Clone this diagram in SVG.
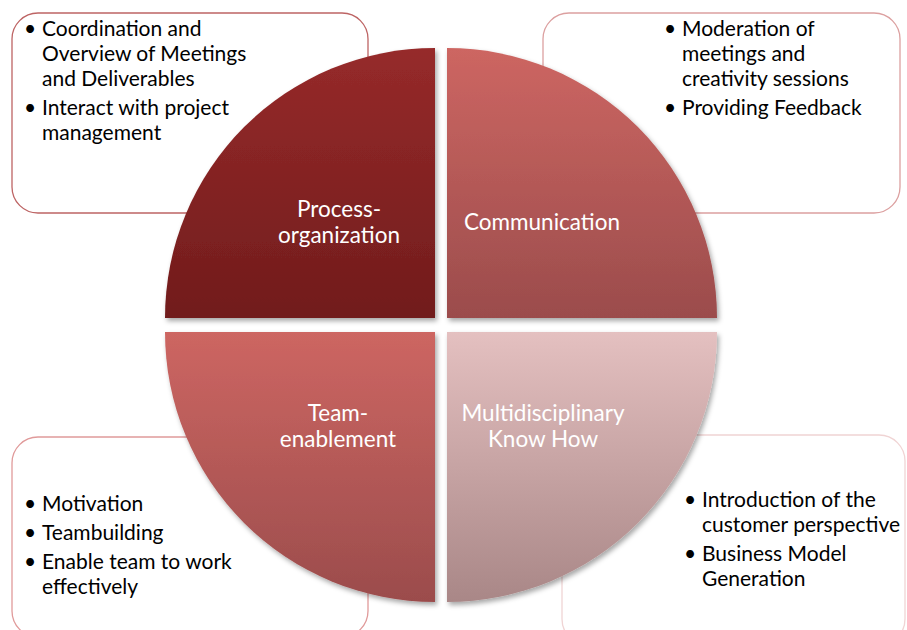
<svg xmlns="http://www.w3.org/2000/svg" width="907" height="630" viewBox="0 0 907 630">
<defs>
<linearGradient id="gTL" x1="0" y1="0" x2="0" y2="1"><stop offset="0" stop-color="#962a2a"/><stop offset="1" stop-color="#711c1c"/></linearGradient>
<linearGradient id="gTR" x1="0" y1="0" x2="0" y2="1"><stop offset="0" stop-color="#cd6662"/><stop offset="1" stop-color="#9b4c4c"/></linearGradient>
<linearGradient id="gBL" x1="0" y1="0" x2="0" y2="1"><stop offset="0" stop-color="#cd6662"/><stop offset="1" stop-color="#9b4c4c"/></linearGradient>
<linearGradient id="gBR" x1="0" y1="0" x2="0" y2="1"><stop offset="0" stop-color="#e4c0c0"/><stop offset="1" stop-color="#a98787"/></linearGradient>
<filter id="sh" x="-10%" y="-10%" width="125%" height="125%"><feDropShadow dx="2" dy="3" stdDeviation="2.5" flood-color="#000" flood-opacity="0.35"/></filter>
</defs>
<style>
.box{fill:#fff;stroke-width:1.3}
.t{font-family:Lato,"Open Sans","Noto Sans",sans-serif;font-size:21px;fill:#000}
.l{font-family:Lato,"Open Sans","Noto Sans",sans-serif;font-size:22.5px;fill:#fff;text-anchor:middle}
</style>
<g id="box-tl"><rect class="box" x="12" y="13" width="356" height="200" rx="26" stroke="#bd6464"/>
<text class="t"><tspan x="24" y="36">•</tspan><tspan x="42" y="36">Coordination and</tspan><tspan x="42" y="61">Overview of Meetings</tspan><tspan x="42" y="86">and Deliverables</tspan><tspan x="24" y="115">•</tspan><tspan x="42" y="115">Interact with project</tspan><tspan x="42" y="140">management</tspan></text></g>
<g id="box-tr"><rect class="box" x="543" y="13" width="357" height="200" rx="26" stroke="#dca0a0"/>
<text class="t"><tspan x="664" y="36">•</tspan><tspan x="682" y="36">Moderation of</tspan><tspan x="682" y="61">meetings and</tspan><tspan x="682" y="86">creativity sessions</tspan><tspan x="664" y="115">•</tspan><tspan x="682" y="115">Providing Feedback</tspan></text></g>
<g id="box-bl"><rect class="box" x="12" y="437" width="356" height="200" rx="26" stroke="#e09a9a"/>
<text class="t"><tspan x="24" y="511">•</tspan><tspan x="42" y="511">Motivation</tspan><tspan x="24" y="540">•</tspan><tspan x="42" y="540">Teambuilding</tspan><tspan x="24" y="569">•</tspan><tspan x="42" y="569">Enable team to work</tspan><tspan x="42" y="594">effectively</tspan></text></g>
<g id="box-br"><rect class="box" x="562" y="435" width="343" height="210" rx="26" stroke="#f0d4d4"/>
<text class="t"><tspan x="684" y="507">•</tspan><tspan x="702" y="507">Introduction of the</tspan><tspan x="702" y="532">customer perspective</tspan><tspan x="684" y="561">•</tspan><tspan x="702" y="561">Business Model</tspan><tspan x="702" y="586">Generation</tspan></text></g>
<g id="q-process"><path d="M435 318 L165 318 A270 270 0 0 1 435 48 Z" fill="url(#gTL)" filter="url(#sh)"/>
<text class="l"><tspan x="339" y="217">Process-</tspan><tspan x="339" y="243">organization</tspan></text></g>
<g id="q-communication"><path d="M447 318 L447 48 A270 270 0 0 1 717 318 Z" fill="url(#gTR)" filter="url(#sh)"/>
<text class="l" x="542" y="230">Communication</text></g>
<g id="q-team"><path d="M435 332 L435 602 A270 270 0 0 1 165 332 Z" fill="url(#gBL)" filter="url(#sh)"/>
<text class="l"><tspan x="338" y="421">Team-</tspan><tspan x="338" y="447">enablement</tspan></text></g>
<g id="q-know"><path d="M447 332 L717 332 A270 270 0 0 1 447 602 Z" fill="url(#gBR)" filter="url(#sh)"/>
<text class="l"><tspan x="543" y="421">Multidisciplinary</tspan><tspan x="543" y="447">Know How</tspan></text></g>
<g id="connectors"/>
</svg>
